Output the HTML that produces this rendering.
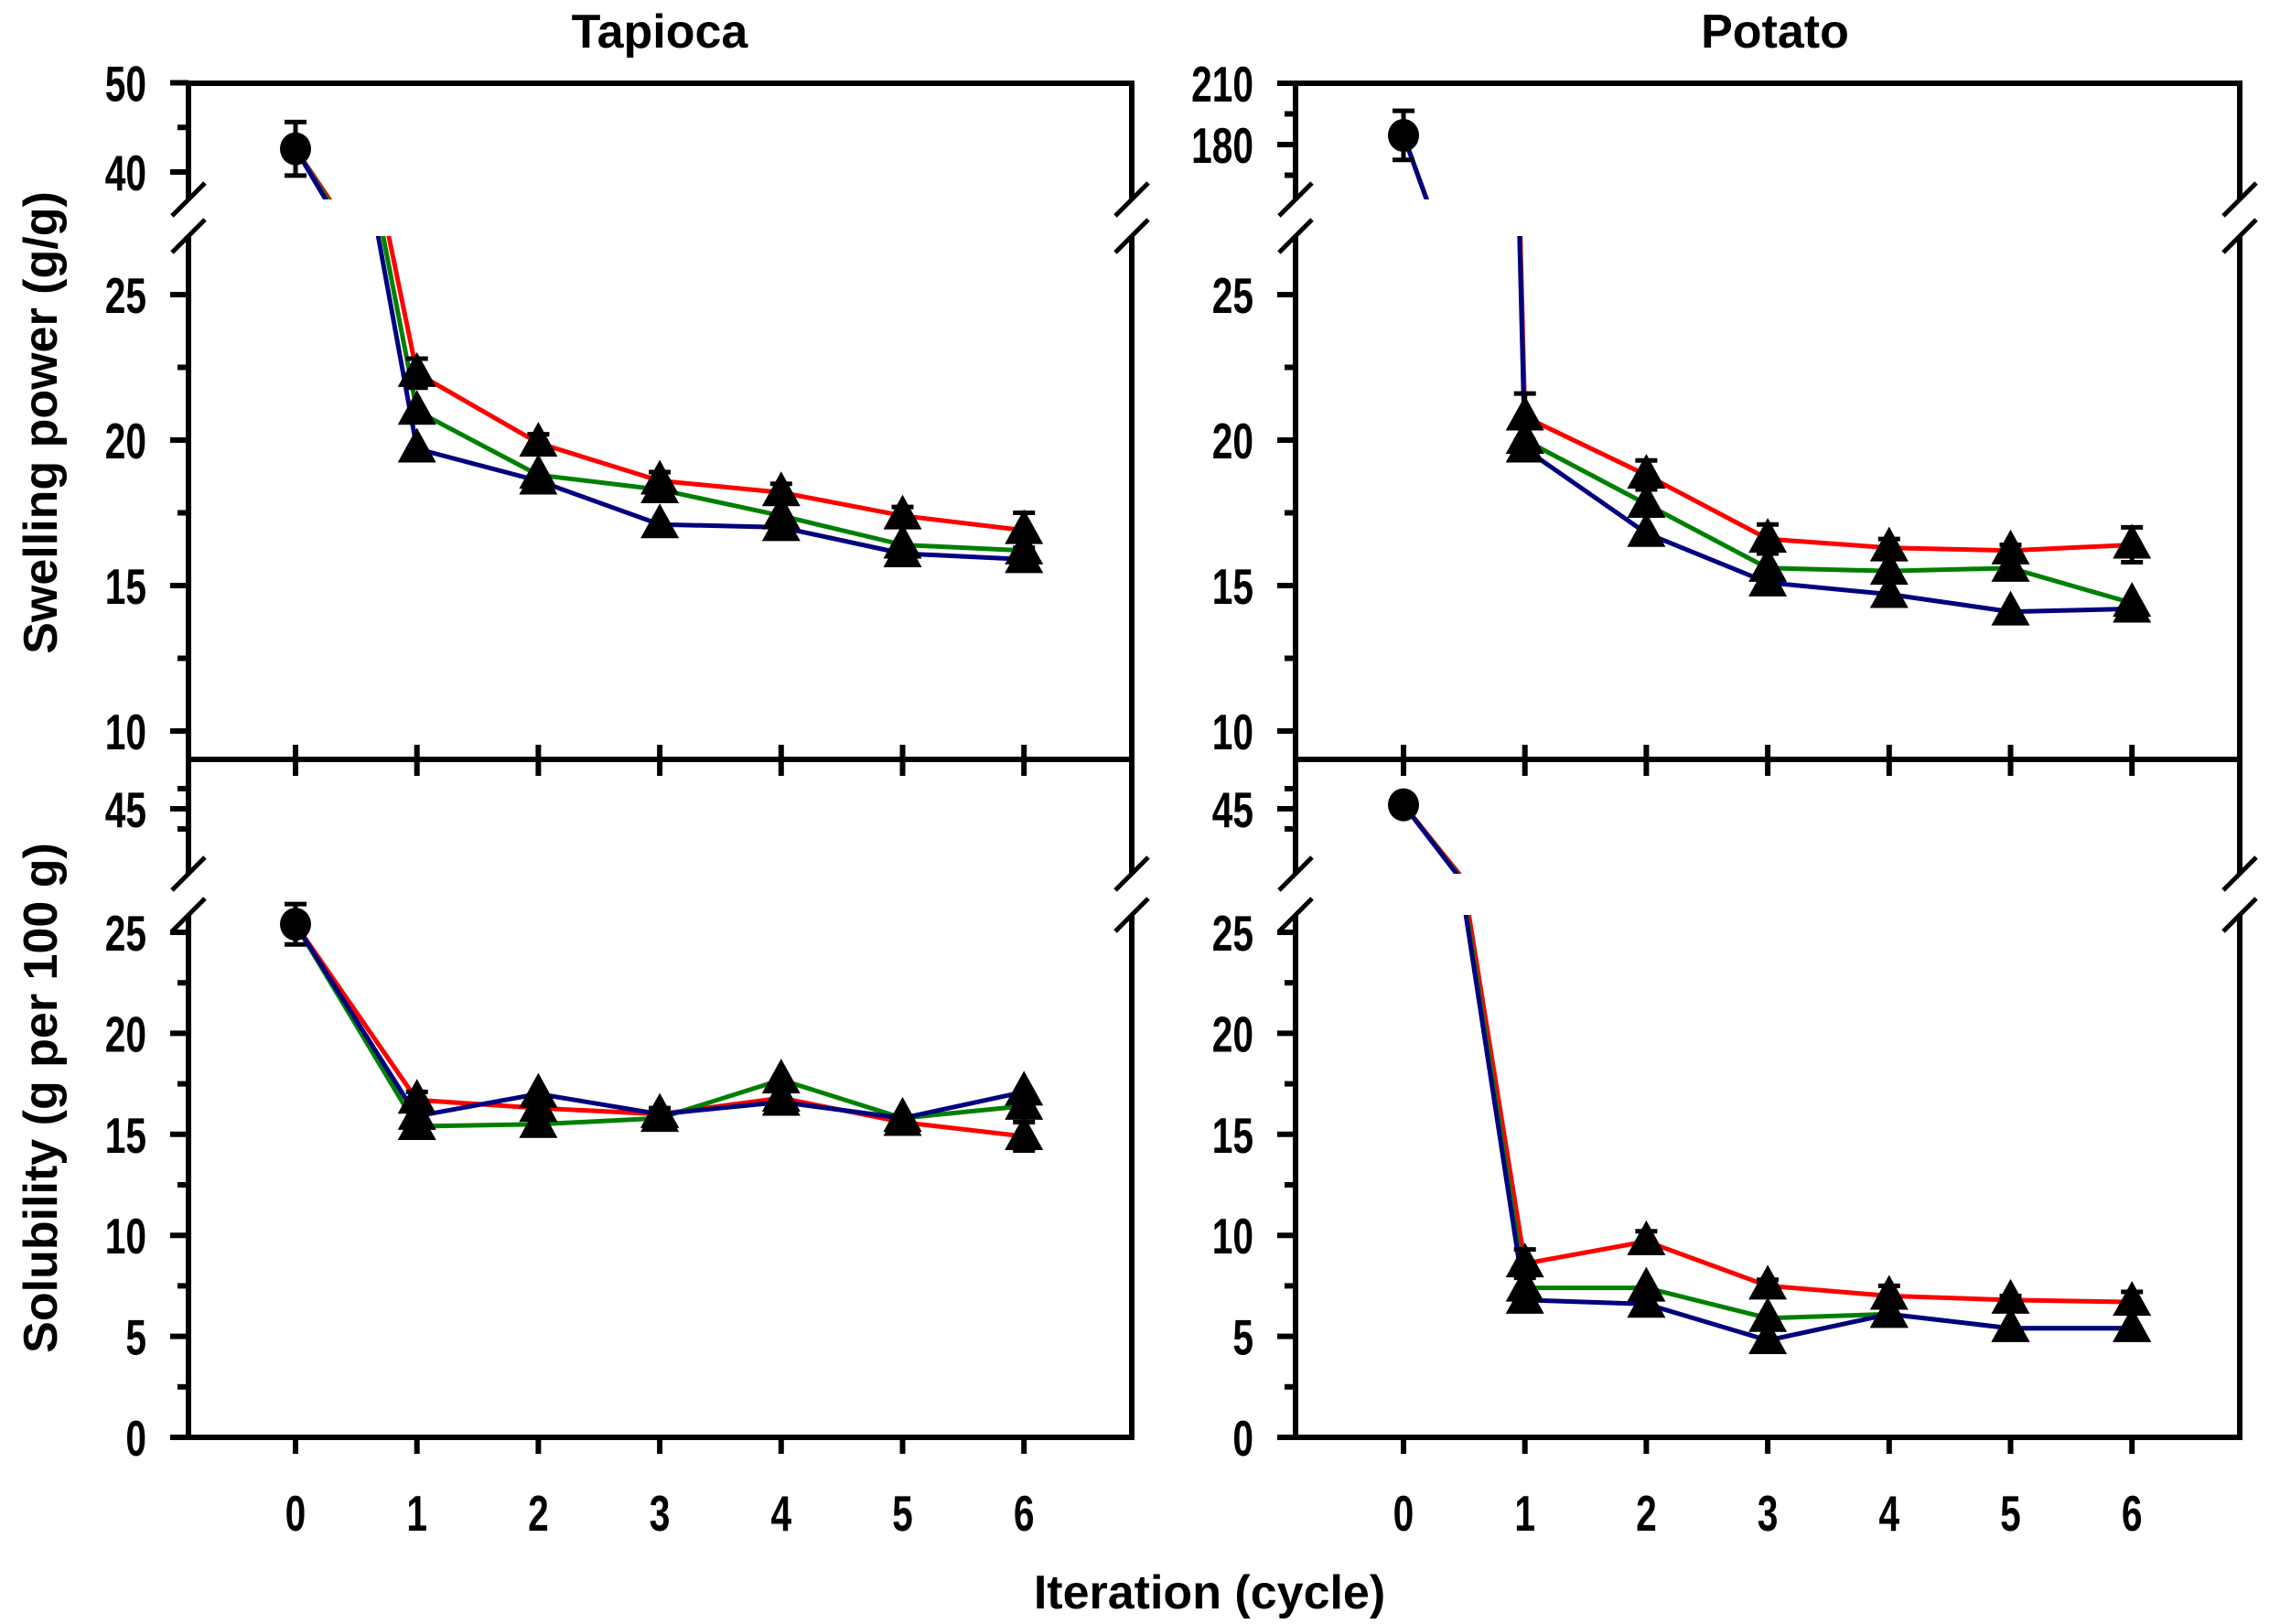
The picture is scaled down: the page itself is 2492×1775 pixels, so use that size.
<!DOCTYPE html>
<html><head><meta charset="utf-8"><style>
html,body{margin:0;padding:0;background:#fff}
svg{display:block}
text{font-family:"Liberation Sans",sans-serif;font-weight:bold;fill:#000}
.tk{font-family:"Liberation Sans",sans-serif;font-size:55px}
</style></head><body>
<svg id="chart" width="2492" height="1775" viewBox="0 0 2492 1775" xmlns="http://www.w3.org/2000/svg">
<text x="721" y="52" font-size="52" text-anchor="middle">Tapioca</text>
<text x="1940" y="52" font-size="52" text-anchor="middle">Potato</text>
<text x="0" y="0" font-size="52" text-anchor="middle" transform="translate(62,462) rotate(-90)">Swelling power (g/g)</text>
<text x="0" y="0" font-size="52" text-anchor="middle" transform="translate(62,1200) rotate(-90)">Solubility (g per 100 g)</text>
<text x="1322" y="1758" font-size="52" text-anchor="middle">Iteration (cycle)</text>
<g id="plots"></g>
</svg>
<script>
// ---- data ----
const cycles = [0,1,2,3,4,5,6];
const xTickLabels = ["0","1","2","3","4","5","6"];
// Tapioca swelling power
const tapSwellStart = 42.6, tapSwellStartErr = 3.0;
const tapSwellRed   = [22.3,19.9,18.6,18.2,17.4,16.9];
const tapSwellGreen = [21.0,18.8,18.3,17.4,16.4,16.2];
const tapSwellBlue  = [19.7,18.6,17.1,17.0,16.1,15.9];
const tapSwellErr   = [0.5,0.3,0.3,0.3,0.3,0.6];
// Potato swelling power
const potSwellStart = 184.5, potSwellStartErr = 12;
const potSwellRed   = [20.8,18.8,16.6,16.3,16.2,16.4];
const potSwellGreen = [20.0,17.8,15.6,15.5,15.6,14.4];
const potSwellBlue  = [19.7,16.8,15.1,14.7,14.1,14.2];
const potSwellErr   = [0.8,0.5,0.5,0.3,0.2,0.6];
// Tapioca solubility
const tapSolStart = 25.4, tapSolStartErr = 1.0;
const tapSolRed   = [16.7,16.3,16.0,16.8,15.6,14.9];
const tapSolGreen = [15.4,15.5,15.8,17.7,15.8,16.4];
const tapSolBlue  = [15.9,17.0,16.0,16.6,15.8,17.1];
const tapSolErr   = [0.4,0.4,0.3,0.7,0.3,0.7];
// Potato solubility
const potSolStart = 46.0, potSolStartErr = 1.0;
const potSolRed   = [8.6,9.7,7.5,7.0,6.8,6.7];
const potSolGreen = [7.4,7.4,5.9,6.1,5.4,5.4];
const potSolBlue  = [6.8,6.6,4.8,6.1,5.4,5.4];
const potSolErr   = [0.7,0.5,0.3,0.5,0.2,0.5];
const seriesColors = ["#ff0000","#008000","#000080"];
const swellUpperTicksTap = [40,50], swellUpperMinorTap=[45];
const swellUpperTicksPot = [180,210], swellUpperMinorPot=[165,195];
const swellLowerTicks = [10,15,20,25], swellLowerMinor=[12.5,17.5,22.5];
const solUpperTicks = [45], solUpperMinor=[40,50];
const solLowerTicks = [0,5,10,15,20,25], solLowerMinor=[2.5,7.5,12.5,17.5,22.5];

const NS="http://www.w3.org/2000/svg";
const root=document.getElementById('plots');
function mk(tag,attrs,parent){const e=document.createElementNS(NS,tag);for(const k in attrs)e.setAttribute(k,attrs[k]);(parent||root).appendChild(e);return e;}
let clipId=0;

function panel(cfg){
  const g=mk('g',{});
  
  
  const xs=i=>cfg.xi0+132.7*i;
  const segs=cfg.segs.map(s=>Object.assign({},s,{y:v=>s.yRef-(v-s.vRef)*s.ppu}));
  segs.forEach((s,si)=>{
    [cfg.x0,cfg.x1].forEach((ax,k)=>{
      const l=mk('line',{x1:ax,x2:ax,y1:s.top,y2:s.bot,stroke:'#000','stroke-width':6},g);
      
      
    });
    s.major.forEach(v=>{
      const yy=s.y(v);
      const t=mk('line',{x1:cfg.x0-20,x2:cfg.x0,y1:yy,y2:yy,stroke:'#000','stroke-width':6},g);
      
      
      const tx=mk('text',{x:0,y:0,'text-anchor':'end',class:'tk',transform:`translate(${cfg.x0-46},${yy+20}) scale(0.74,1)`},g);
      tx.textContent=String(v);
      
      
    });
    s.minor.forEach(v=>{
      const yy=s.y(v);
      const t=mk('line',{x1:cfg.x0-12,x2:cfg.x0,y1:yy,y2:yy,stroke:'#000','stroke-width':6},g);
      
      
    });
  });
  [cfg.x0,cfg.x1].forEach(ax=>{
    [segs[0].bot,segs[1].top].forEach(yy=>{
      const l=mk('line',{x1:ax-18,y1:yy+18,x2:ax+18,y2:yy-18,stroke:'#000','stroke-width':5},g);
      
      
    });
  });
  const topL=mk('line',{x1:cfg.x0-3,x2:cfg.x1+3,y1:segs[0].top,y2:segs[0].top,stroke:'#000','stroke-width':6},g);
  
  
  const botL=mk('line',{x1:cfg.x0-3,x2:cfg.x1+3,y1:segs[1].bot,y2:segs[1].bot,stroke:'#000','stroke-width':6},g);
  
  
  cycles.forEach((c,i)=>{
    const xx=xs(i);
    const t=mk('line',{x1:xx,x2:xx,y1:segs[1].bot-(cfg.bottom?0:16),y2:segs[1].bot+18,stroke:'#000','stroke-width':6},g);
    
    
    if(cfg.bottom){
      const tx=mk('text',{x:0,y:0,'text-anchor':'middle',class:'tk',transform:`translate(${xx},1673) scale(0.74,1)`},g);
      tx.textContent=xTickLabels[i];
      
      
    }
  });
  segs.forEach(s=>{
    const id='c'+(clipId++);
    const cp=mk('clipPath',{id:id},g);
    mk('rect',{x:cfg.x0,y:s.top,width:cfg.x1-cfg.x0,height:s.bot-s.top},cp);
    const lg=mk('g',{'clip-path':'url(#'+id+')'},g);
    cfg.series.forEach((ser,k)=>{
      const vals=[cfg.start].concat(ser);
      const pts=vals.map((v,i)=>xs(i).toFixed(1)+','+s.y(v).toFixed(1)).join(' ');
      const pl=mk('polyline',{points:pts,fill:'none',stroke:seriesColors[k],'stroke-width':5,'stroke-linejoin':'round'},lg);
      
      
    });
  });
  const segFor=v=>v>cfg.split?segs[0]:segs[1];
  function errBar(xx,v,e){
    const s=segFor(v);
    const y1=s.y(v+e),y2=s.y(v-e);
    const eb=mk('g',{stroke:'#000','stroke-width':5},g);
    
    
    mk('line',{x1:xx,x2:xx,y1:y1,y2:y2},eb);
    mk('line',{x1:xx-12,x2:xx+12,y1:y1,y2:y1},eb);
    mk('line',{x1:xx-12,x2:xx+12,y1:y2,y2:y2},eb);
  }
  errBar(xs(0),cfg.start,cfg.startErr);
  const c=mk('ellipse',{cx:xs(0),cy:segFor(cfg.start).y(cfg.start),rx:17,ry:18,fill:'#000'},g);
  
  
  cfg.series.forEach((ser,k)=>{
    ser.forEach((v,i)=>{
      const xx=xs(i+1);
      if(k===0)errBar(xx,v,cfg.err[i]);
      const yy=segFor(v).y(v);
      const tri=mk('polygon',{points:`${xx},${yy-23} ${xx-21},${yy+15} ${xx+21},${yy+15}`,fill:'#000'},g);
      
      
    });
  });
}

const swellSegsTap=[{top:91,bot:218,yRef:188,vRef:40,ppu:9.75,major:swellUpperTicksTap,minor:swellUpperMinorTap},
  {top:258,bot:830,yRef:799,vRef:10,ppu:31.8,major:swellLowerTicks,minor:swellLowerMinor}];
const swellSegsPot=[{top:91,bot:218,yRef:158,vRef:180,ppu:2.233,major:swellUpperTicksPot,minor:swellUpperMinorPot},
  {top:258,bot:830,yRef:799,vRef:10,ppu:31.8,major:swellLowerTicks,minor:swellLowerMinor}];
const solSegs=[{top:830,bot:955,yRef:884,vRef:45,ppu:4.4,major:solUpperTicks,minor:solUpperMinor},
  {top:1000,bot:1571,yRef:1571,vRef:0,ppu:22.08,major:solLowerTicks,minor:solLowerMinor}];

panel({name:'tapioca-swelling-panel',x0:206,x1:1237,xi0:323,segs:swellSegsTap,split:30,start:tapSwellStart,startErr:tapSwellStartErr,series:[tapSwellRed,tapSwellGreen,tapSwellBlue],err:tapSwellErr,bottom:false});
panel({name:'potato-swelling-panel',x0:1416,x1:2448,xi0:1534,segs:swellSegsPot,split:30,start:potSwellStart,startErr:potSwellStartErr,series:[potSwellRed,potSwellGreen,potSwellBlue],err:potSwellErr,bottom:false});
panel({name:'tapioca-solubility-panel',x0:206,x1:1237,xi0:323,segs:solSegs,split:35,start:tapSolStart,startErr:tapSolStartErr,series:[tapSolRed,tapSolGreen,tapSolBlue],err:tapSolErr,bottom:true});
panel({name:'potato-solubility-panel',x0:1416,x1:2448,xi0:1534,segs:solSegs,split:35,start:potSolStart,startErr:potSolStartErr,series:[potSolRed,potSolGreen,potSolBlue],err:potSolErr,bottom:true});
</script>
</body></html>
